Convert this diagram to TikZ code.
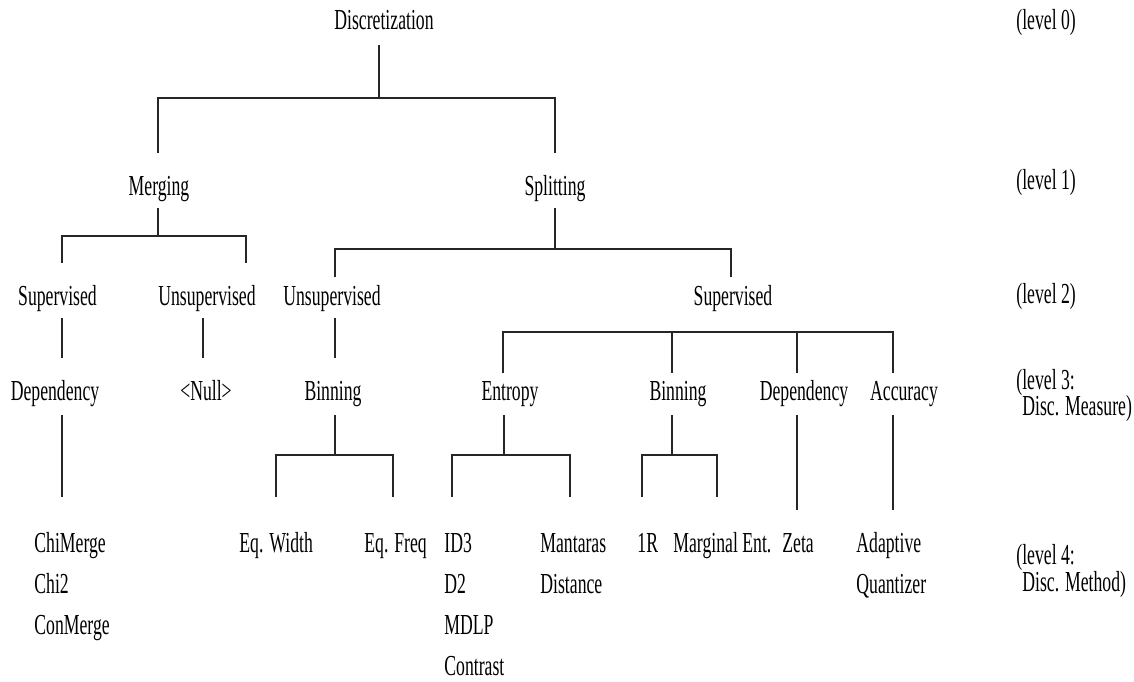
\documentclass[tikz,border=0pt]{standalone}
\usepackage{fontspec}
\setmainfont[FakeStretch=0.61]{Liberation Serif}
\begin{document}
\begin{tikzpicture}[x=0.5pt,y=-0.5pt,
  lbl/.style={inner sep=0pt, anchor=base, font=\fontsize{14.5}{16}\selectfont},
  lbll/.style={inner sep=0pt, anchor=base west, font=\fontsize{14.5}{16}\selectfont},
  ln/.style={line width=0.6pt, draw=black!85}]
\useasboundingbox (0,0) rectangle (1134,681);
% level 0
\node[lbl] (disc) at (384,29) {Discretization};
\node[lbll] (lv0) at (1016,29) {(level 0)};
% level 1
\node[lbl] (merg) at (159,195) {Merging};
\node[lbl] (split) at (555,195) {Splitting};
\node[lbll] (lv1) at (1016,189) {(level 1)};
% level 2
\node[lbl] (supL) at (57.5,305) {Supervised};
\node[lbl] (unsM) at (207,305) {Unsupervised};
\node[lbl] (unsS) at (332,305) {Unsupervised};
\node[lbl] (supS) at (733,305) {Supervised};
\node[lbll] (lv2) at (1016,303) {(level 2)};
% level 3
\node[lbl] (depL) at (55,400) {Dependency};
\node[lbl] (null) at (206,400) {\textless{}Null\textgreater{}};
\node[lbl] (binU) at (333,400) {Binning};
\node[lbl] (ent) at (510,400) {Entropy};
\node[lbl] (binS) at (678,400) {Binning};
\node[lbl] (depS) at (804,400) {Dependency};
\node[lbl] (acc) at (904,400) {Accuracy};
\node[lbll] (lv3a) at (1016,389) {(level 3:};
\node[lbll] (lv3b) at (1022,415) {Disc. Measure)};
% level 4
\node[lbll] (chi1) at (34,552) {ChiMerge};
\node[lbll] (chi2) at (34,593) {Chi2};
\node[lbll] (chi3) at (34,634) {ConMerge};
\node[lbll] (eqw) at (239,552) {Eq. Width};
\node[lbll] (eqf) at (364,552) {Eq. Freq};
\node[lbll] (id3) at (444,552) {ID3};
\node[lbll] (d2) at (444,593) {D2};
\node[lbll] (mdlp) at (444,634) {MDLP};
\node[lbll] (contr) at (444,675) {Contrast};
\node[lbll] (mant) at (540,552) {Mantaras};
\node[lbll] (dist) at (540,593) {Distance};
\node[lbll] (r1) at (637,552) {1R};
\node[lbll] (marg) at (673,552) {Marginal Ent.};
\node[lbll] (zeta) at (782,552) {Zeta};
\node[lbll] (adapt) at (856,552) {Adaptive};
\node[lbll] (quant) at (856,593) {Quantizer};
\node[lbll] (lv4a) at (1016,564) {(level 4:};
\node[lbll] (lv4b) at (1022,591) {Disc. Method)};
% coordinates
\coordinate (d0) at (379,45);
\coordinate (b0) at (379,98);
\coordinate (b0l) at (158,98);
\coordinate (b0r) at (555,98);
\coordinate (e0l) at (158,153);
\coordinate (e0r) at (555,153);
\coordinate (m0) at (158,208);
\coordinate (m1) at (158,236);
\coordinate (m1l) at (62,236);
\coordinate (m1r) at (246,236);
\coordinate (m2l) at (62,263);
\coordinate (m2r) at (246,263);
\coordinate (s0) at (555,208);
\coordinate (s1) at (555,249);
\coordinate (s1l) at (335,249);
\coordinate (s1r) at (731,249);
\coordinate (s2l) at (335,277);
\coordinate (s2r) at (731,277);
\coordinate (p1) at (62,318);  \coordinate (p1e) at (62,358);
\coordinate (p2) at (203,318); \coordinate (p2e) at (203,358);
\coordinate (p3) at (335,318); \coordinate (p3e) at (335,358);
\coordinate (q0) at (503,332); \coordinate (q3) at (893,332);
\coordinate (q1) at (672,332); \coordinate (q2) at (797,332);
\coordinate (q0e) at (503,373); \coordinate (q1e) at (672,373);
\coordinate (q2e) at (797,373); \coordinate (q3e) at (893,373);
% level 3 stems
\coordinate (r1s) at (62,415);  \coordinate (r1e) at (62,497);
\coordinate (r2s) at (335,415); \coordinate (r2e) at (335,455);
\coordinate (r3s) at (504,415); \coordinate (r3e) at (504,455);
\coordinate (r4s) at (672,415); \coordinate (r4e) at (672,455);
\coordinate (r5s) at (797,415); \coordinate (r5e) at (797,510);
\coordinate (r6s) at (893,415); \coordinate (r6e) at (893,510);
\coordinate (u1) at (276,455); \coordinate (u2) at (393,455);
\coordinate (u3) at (452,455); \coordinate (u4) at (570,455);
\coordinate (u5) at (642,455); \coordinate (u6) at (717,455);
\coordinate (u1e) at (276,497); \coordinate (u2e) at (393,497);
\coordinate (u3e) at (452,497); \coordinate (u4e) at (570,497);
\coordinate (u5e) at (642,497); \coordinate (u6e) at (717,497);
% connectors
\draw[ln] (d0) -- (b0);
\draw[ln] (e0l) -- (b0l) -- (b0r) -- (e0r);
\draw[ln] (m0) -- (m1);
\draw[ln] (m2l) -- (m1l) -- (m1r) -- (m2r);
\draw[ln] (s0) -- (s1);
\draw[ln] (s2l) -- (s1l) -- (s1r) -- (s2r);
\draw[ln] (p1) -- (p1e);
\draw[ln] (p2) -- (p2e);
\draw[ln] (p3) -- (p3e);
\draw[ln] (q0e) -- (q0) -- (q3) -- (q3e);
\draw[ln] (q1) -- (q1e);
\draw[ln] (q2) -- (q2e);
\draw[ln] (r1s) -- (r1e);
\draw[ln] (r2s) -- (r2e);
\draw[ln] (r3s) -- (r3e);
\draw[ln] (r4s) -- (r4e);
\draw[ln] (r5s) -- (r5e);
\draw[ln] (r6s) -- (r6e);
\draw[ln] (u1e) -- (u1) -- (u2) -- (u2e);
\draw[ln] (u3e) -- (u3) -- (u4) -- (u4e);
\draw[ln] (u5e) -- (u5) -- (u6) -- (u6e);
\end{tikzpicture}
\end{document}
